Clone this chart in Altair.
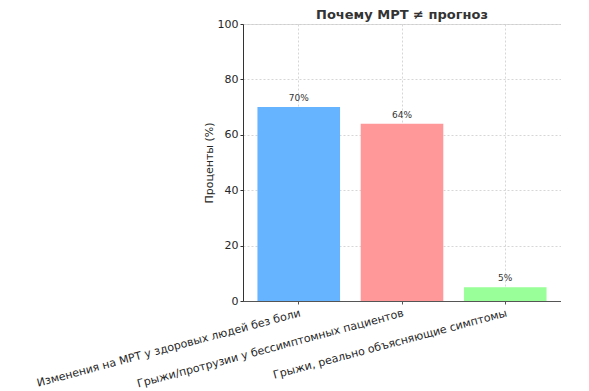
import altair as alt
import pandas as pd

categories = [
    "Изменения на МРТ у здоровых людей без боли",
    "Грыжи/протрузии у бессимптомных пациентов",
    "Грыжи, реально объясняющие симптомы",
]
values = [70, 64, 5]
colors = ["#66b3ff", "#ff9999", "#99ff99"]
labels = ["70%", "64%", "5%"]

df = pd.DataFrame({"cat": categories, "val": values, "color": colors, "label": labels})

x = alt.X(
    "cat:N",
    sort=categories,
    scale=alt.Scale(paddingInner=0.2, paddingOuter=0.14),
    axis=alt.Axis(
        title=None,
        labelAngle=-15,
        labelAlign="right",
        labelBaseline="top",
        labelFont="DejaVu Sans",
        labelFontSize=11,
        labelColor="#262626",
        labelLimit=400,
        labelPadding=3,
        grid=True,
        gridDash=[2, 2],
        gridColor="#cccccc",
        gridWidth=0.8,
        bandPosition=0.5,
        domainColor="#555555",
        domainWidth=1,
        tickColor="#555555",
        tickSize=3,
    ),
)

y = alt.Y(
    "val:Q",
    scale=alt.Scale(domain=[0, 100], nice=False),
    axis=alt.Axis(
        title="Проценты (%)",
        titleFont="DejaVu Sans",
        titleFontSize=11,
        titleFontWeight="normal",
        titleColor="#262626",
        titlePadding=3,
        values=[0, 20, 40, 60, 80, 100],
        labelFont="DejaVu Sans",
        labelFontSize=11,
        labelColor="#262626",
        grid=True,
        gridDash=[2, 2],
        gridColor="#cccccc",
        gridWidth=0.8,
        domainColor="#333333",
        tickColor="#333333",
        tickSize=3,
    ),
)

base = alt.Chart(df)

bars = base.mark_bar().encode(
    x=x,
    y=y,
    color=alt.Color("color:N", scale=None),
)

text = base.mark_text(dy=-9, font="DejaVu Sans", fontSize=9, color="#333333").encode(
    x=alt.X("cat:N", sort=categories),
    y="val:Q",
    text="label:N",
)

chart = (
    alt.layer(bars, text)
    .properties(
        width=318,
        height=277,
        autosize=alt.AutoSizeParams(type="none"),
        title=alt.TitleParams(
            "Почему МРТ ≠ прогноз",
            font="DejaVu Sans",
            fontSize=13,
            fontWeight="bold",
            color="#333333",
            offset=-4,
        ),
        padding={"left": 235, "top": 16, "right": 0, "bottom": 90},
    )
    .configure_view(strokeWidth=0, stroke="transparent")
    .configure(background="white")
)

chart.save("out.html", embed_options={"renderer": "svg", "actions": False})
